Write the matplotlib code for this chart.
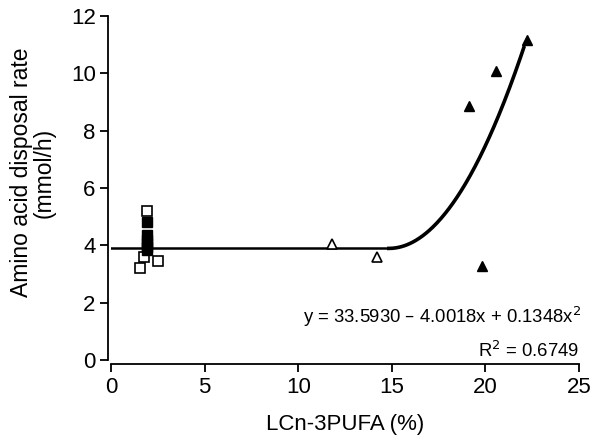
import numpy as np
import matplotlib
matplotlib.use("Agg")
import matplotlib.pyplot as plt

plt.rcParams['font.family'] = ['Liberation Sans', 'DejaVu Sans']

# open squares
osq_x = [1.9, 1.76, 2.53, 1.53]
osq_y = [5.2, 3.6, 3.46, 3.2]
# filled squares
fsq_x = [1.9, 1.9, 1.9, 1.9, 1.9, 1.9]
fsq_y = [4.82, 4.35, 4.2, 4.05, 3.95, 3.85]
# open triangles
otr_x = [11.8, 14.2]
otr_y = [4.05, 3.6]
# filled triangles
ftr_x = [22.2, 20.57, 19.14, 19.8]
ftr_y = [11.16, 10.08, 8.86, 3.28]

# fit coefficients
a, b, c = 33.5930, -4.0018, 0.1348
x_end = 22.05

fig = plt.figure(figsize=(6, 4.48), dpi=100)
ax = fig.add_axes([0.185, 0.1964, 0.78, 0.768])

xv = -b / (2 * c)
yv = a + b * xv + c * xv ** 2
ax.plot([0, xv], [yv, yv], color='black', lw=1.8, zorder=2)
xs = np.linspace(xv, x_end, 200)
ax.plot(xs, a + b * xs + c * xs ** 2, color='black', lw=2.6, zorder=2)

ax.plot(osq_x, osq_y, 's', ms=6.5, mfc='white', mec='black', mew=1.2, ls='none', zorder=3)
ax.plot(fsq_x, fsq_y, 's', ms=6.5, mfc='black', mec='black', ls='none', zorder=3)
ax.plot(otr_x, otr_y, '^', ms=7, mfc='white', mec='black', mew=1.2, ls='none', zorder=3)
ax.plot(ftr_x, ftr_y, '^', ms=7, mfc='black', mec='black', ls='none', zorder=3)

ax.set_xlim(0, 25)
ax.set_ylim(0, 12)
ax.set_xticks([0, 5, 10, 15, 20, 25])
ax.set_yticks([0, 2, 4, 6, 8, 10, 12])
for s in ['top', 'right']:
    ax.spines[s].set_visible(False)
ax.spines['left'].set_position(('outward', 2))
ax.spines['bottom'].set_position(('outward', 3))
for s in ['left', 'bottom']:
    ax.spines[s].set_linewidth(1.3)
ax.tick_params(direction='out', length=6, width=1.3, labelsize=16, pad=3)

fig.text(0.055, 0.615, 'Amino acid disposal rate\n(mmol/h)', rotation=90, fontsize=16.5,
         ha='center', va='center', multialignment='center', linespacing=1.0)
ax.set_xlabel('LCn-3PUFA (%)', fontsize=16, labelpad=12)

ax.text(25.1, 1.5, 'y = 33.5930 \u2013 4.0018x + 0.1348x$^2$', ha='right', va='center', fontsize=13.3)
ax.text(25.0, 0.3, 'R$^2$ = 0.6749', ha='right', va='center', fontsize=13.3)

fig.savefig('out.png', dpi=100)
